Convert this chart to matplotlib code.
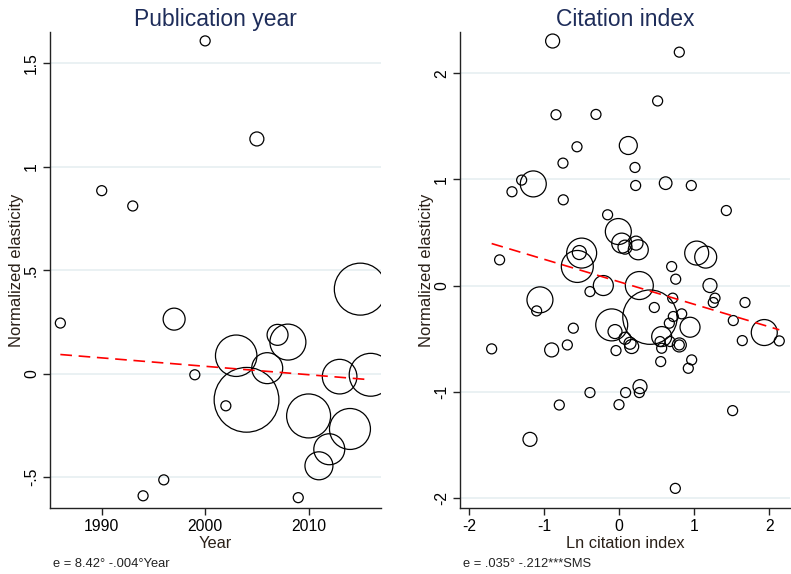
import matplotlib
matplotlib.use("Agg")
import matplotlib.pyplot as plt
import numpy as np

plt.rcParams['font.family'] = ['Liberation Sans', 'DejaVu Sans']

# ---- Left panel: publication year ----
year = [1986, 1990, 1993, 1994, 1996, 1997, 1999, 2000, 2002, 2003, 2004, 2005,
        2006, 2007, 2008, 2009, 2010, 2011, 2012, 2013, 2014, 2015, 2016]
elas_year = [0.244, 0.884, 0.81, -0.591, -0.514, 0.263, -0.006, 1.608, -0.156, 0.086,
             -0.127, 1.134, 0.026, 0.187, 0.152, -0.60, -0.205, -0.446, -0.366,
             -0.015, -0.268, 0.408, -0.006]
weight_year = [25, 25, 25, 25, 25, 121, 25, 25, 25, 430, 1050, 49,
               240, 110, 324, 25, 484, 196, 240, 300, 420, 676, 460]
fit_year_b0, fit_year_b1 = 8.175, -0.00407
fit_year_range = (1986, 2016)

# ---- Right panel: citation index ----
lncit = [-0.889, 0.80, 0.511, -0.844, -0.311, 0.12, -0.564, -0.751, 0.209, -1.302,
         -1.147, 0.218, 0.618, 0.96, -1.431, -0.747, 1.427, -0.156, -0.013, 0.032,
         0.076, 0.223, 0.253, -0.502, -0.533, -0.56, 1.032, 1.152, -1.596, 0.698,
         0.752, -0.213, 0.267, 1.209, -1.058, -1.102, -0.391, 0.409, 0.467, 0.712,
         1.253, 1.276, 1.676, 1.52, 1.933, 2.133, 1.64, -0.613, -0.101, -0.057,
         -1.702, -0.902, -0.693, -0.044, 0.076, 0.143, 0.165, 0.943, 0.565, 0.543,
         0.676, 0.80, 0.80, 0.565, 0.832, 0.72, 0.667, 0.552, 0.965, 0.92,
         0.276, 0.267, 0.084, -0.391, -0.004, -0.80, 1.511, -1.191, 0.747]
elas_cit = [2.305, 2.20, 1.74, 1.61, 1.613, 1.32, 1.308, 1.154, 1.113, 0.994,
            0.958, 0.943, 0.965, 0.943, 0.884, 0.808, 0.707, 0.667, 0.509, 0.40,
            0.362, 0.40, 0.337, 0.306, 0.311, 0.18, 0.306, 0.268, 0.242, 0.179,
            0.06, 0.0, 0.0, 0.0, -0.135, -0.239, -0.057, -0.298, -0.207, -0.119,
            -0.16, -0.119, -0.16, -0.33, -0.443, -0.522, -0.519, -0.402, -0.371, -0.434,
            -0.597, -0.607, -0.56, -0.613, -0.497, -0.544, -0.575, -0.393, -0.481, -0.528,
            -0.528, -0.56, -0.56, -0.591, -0.267, -0.292, -0.355, -0.717, -0.701, -0.78,
            -0.953, -1.009, -1.009, -1.009, -1.123, -1.126, -1.179, -1.45, -1.912]
weight_cit = [49, 25, 25, 25, 25, 81, 25, 25, 25, 25,
              169, 25, 40, 25, 25, 25, 25, 25, 169, 100,
              49, 49, 100, 225, 49, 256, 144, 121, 25, 25,
              25, 100, 196, 49, 169, 25, 25, 740, 25, 25,
              25, 25, 25, 25, 169, 25, 25, 25, 256, 49,
              25, 49, 25, 25, 36, 36, 49, 100, 100, 25,
              25, 49, 25, 25, 25, 25, 25, 25, 25, 25,
              49, 25, 25, 25, 25, 25, 25, 49, 25]
fit_cit_b0, fit_cit_b1 = 0.035, -0.212
fit_cit_range = (-1.702, 2.133)

# ---- Text ----
titles = ["Publication year", "Citation index"]
xlabels = ["Year", "Ln citation index"]
ylabel = "Normalized elasticity"
notes = ["e = 8.42° -.004°Year", "e = .035° -.212***SMS"]
left_yticks = [-0.5, 0, 0.5, 1, 1.5]
left_yticklabels = ["-.5", "0", ".5", "1", "1.5"]
left_xticks = [1990, 2000, 2010]
right_yticks = [-2, -1, 0, 1, 2]
right_yticklabels = ["-2", "-1", "0", "1", "2"]
right_xticks = [-2, -1, 0, 1, 2]
right_xticklabels = ["-2", "-1", "0", "1", "2"]

W, H = 791, 574
fig = plt.figure(figsize=(W / 100, H / 100), dpi=100)
ax1 = fig.add_axes([50 / W, 1 - 508 / H, 331 / W, 476 / H])
ax2 = fig.add_axes([460 / W, 1 - 508 / H, 330 / W, 476 / H])

title_color = '#1e2d5a'
label_color = '#2a2018'
grid_color = '#e8f0f2'
size_k = 2.07


def style(ax):
    for s in ['top', 'right']:
        ax.spines[s].set_visible(False)
    for s in ['left', 'bottom']:
        ax.spines[s].set_linewidth(1.0)
        ax.spines[s].set_color('#222222')
    ax.tick_params(axis='both', direction='out', length=5, width=1.0,
                   labelsize=11.3, pad=3, color='#222222')
    ax.yaxis.grid(True, color=grid_color, linewidth=1.3)
    ax.set_axisbelow(True)


# Left
style(ax1)
ax1.scatter(year, elas_year, s=np.array(weight_year) * size_k, facecolors='none',
            edgecolors='black', linewidths=0.9, zorder=3)
xx = np.array(fit_year_range, dtype=float)
ax1.plot(xx, fit_year_b0 + fit_year_b1 * xx, color='red', linestyle=(0, (7, 4)),
         linewidth=1.2, zorder=4)
ax1.set_xlim(1985, 2017)
ax1.set_ylim(-0.65, 1.651)
ax1.set_yticks(left_yticks)
ax1.set_yticklabels(left_yticklabels, rotation=90, va='center')
ax1.set_xticks(left_xticks)
ax1.set_title(titles[0], fontsize=16.5, color=title_color, pad=4)
ax1.set_xlabel(xlabels[0], fontsize=11.8, color=label_color, labelpad=1)
ax1.set_ylabel(ylabel, fontsize=12, color=label_color, labelpad=0)

# Right
style(ax2)
ax2.scatter(lncit, elas_cit, s=np.array(weight_cit) * size_k, facecolors='none',
            edgecolors='black', linewidths=0.9, zorder=3)
xx2 = np.array(fit_cit_range, dtype=float)
ax2.plot(xx2, fit_cit_b0 + fit_cit_b1 * xx2, color='red', linestyle=(0, (7, 4)),
         linewidth=1.2, zorder=4)
ax2.set_xlim(-2.124, 2.276)
ax2.set_ylim(-2.097, 2.39)
ax2.set_yticks(right_yticks)
ax2.set_yticklabels(right_yticklabels, rotation=90, va='center')
ax2.set_xticks(right_xticks)
ax2.set_xticklabels(right_xticklabels)
ax2.set_title(titles[1], fontsize=16.5, color=title_color, pad=4)
ax2.set_xlabel(xlabels[1], fontsize=11.8, color=label_color, labelpad=1)
ax2.set_ylabel(ylabel, fontsize=12, color=label_color, labelpad=0)

fig.text(53 / W, 1 - 567 / H, notes[0], fontsize=9.3, color='#222222', va='baseline')
fig.text(463 / W, 1 - 567 / H, notes[1], fontsize=9.3, color='#222222', va='baseline')

fig.savefig('out.png', dpi=100)
